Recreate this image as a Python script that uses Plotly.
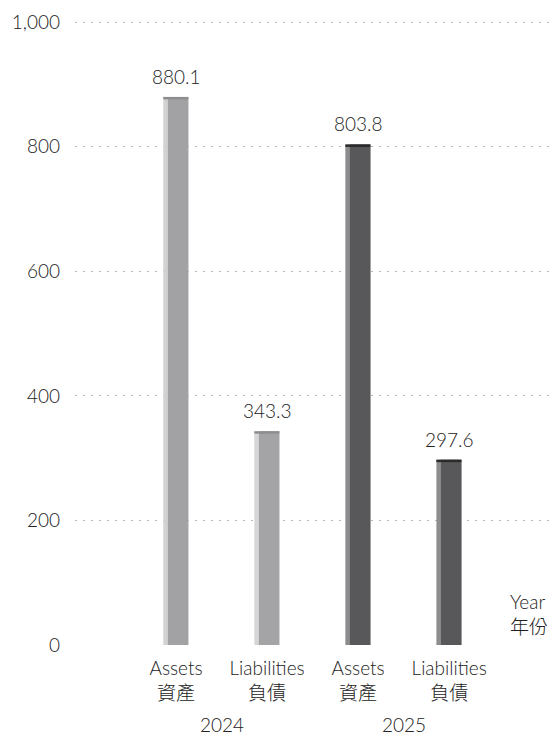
import plotly.graph_objects as go

categories = ["2024 Assets", "2024 Liabilities", "2025 Assets", "2025 Liabilities"]
item_labels = ["Assets<br>資產", "Liabilities<br>負債", "Assets<br>資產", "Liabilities<br>負債"]
years = ["2024", "2025"]
values = [880.1, 343.3, 803.8, 297.6]
value_labels = ["880.1", "343.3", "803.8", "297.6"]
y_ticks = [0, 200, 400, 600, 800, 1000]
y_tick_text = ["0", "200", "400", "600", "800", "1,000"]

# styles
front_colors = ["#a2a2a4", "#a4a4a6", "#58585a", "#58585a"]
side_colors = ["#d2d2d3", "#d6d6d7", "#8c8c8e", "#8e8e90"]
cap_colors = ["#8e8e90", "#8e8e90", "#2a2a2a", "#2a2a2a"]
CAP = 4
FONT = "Lato, 'Noto Sans CJK TC', sans-serif"
TXT = "#222222"
FS = 19
W = 300


def f(size=FS):
    return dict(size=size, color=TXT, family=FONT, weight=W)


fig = go.Figure()
fig.add_bar(x=categories, y=values, width=0.275, offset=-0.14,
            marker=dict(color=side_colors, line_width=0), hoverinfo="skip")
fig.add_bar(x=categories, y=values, width=0.225, offset=-0.09,
            marker=dict(color=front_colors, line_width=0), hoverinfo="skip")
fig.add_bar(x=categories, y=[CAP] * len(values), base=[v - CAP for v in values],
            width=0.275, offset=-0.14, marker=dict(color=cap_colors, line_width=0), hoverinfo="skip")

for c, v, t in zip(categories, values, value_labels):
    fig.add_annotation(x=c, y=v, text=t, showarrow=False, yanchor="bottom", yshift=7, font=f())

# year labels centred under each pair of categories
for i, yr in enumerate(years):
    fig.add_annotation(x=2 * i + 0.5, xref="x", y=0, yref="paper", text=yr, showarrow=False,
                       yanchor="middle", yshift=-79, font=f())

fig.update_layout(
    width=552, height=736,
    margin=dict(l=75, r=0, t=21, b=91),
    barmode="overlay",
    showlegend=False,
    plot_bgcolor="white", paper_bgcolor="white",
    font=f(),
)
fig.update_xaxes(type="category", tickvals=categories, ticktext=item_labels, showgrid=False,
                 showline=False, zeroline=False, ticks="", ticklabelstandoff=10,
                 tickfont=f(), range=[-1.11, 4.13])
fig.update_yaxes(range=[0, 1002], tickvals=y_ticks, ticktext=y_tick_text, showgrid=True,
                 gridcolor="#b8b8b8", griddash="2px,6px", gridwidth=1.4, zeroline=False,
                 showline=False, ticks="", ticklabelstandoff=14, tickfont=f())
fig.add_annotation(text="Year<br>年份", xref="paper", yref="paper", x=1, xshift=-2, y=0.05,
                   xanchor="right", yanchor="middle", showarrow=False, align="left", font=f())

fig.write_html("out.html", config={"displayModeBar": False},
               post_script="document.body.style.margin='0px';")
